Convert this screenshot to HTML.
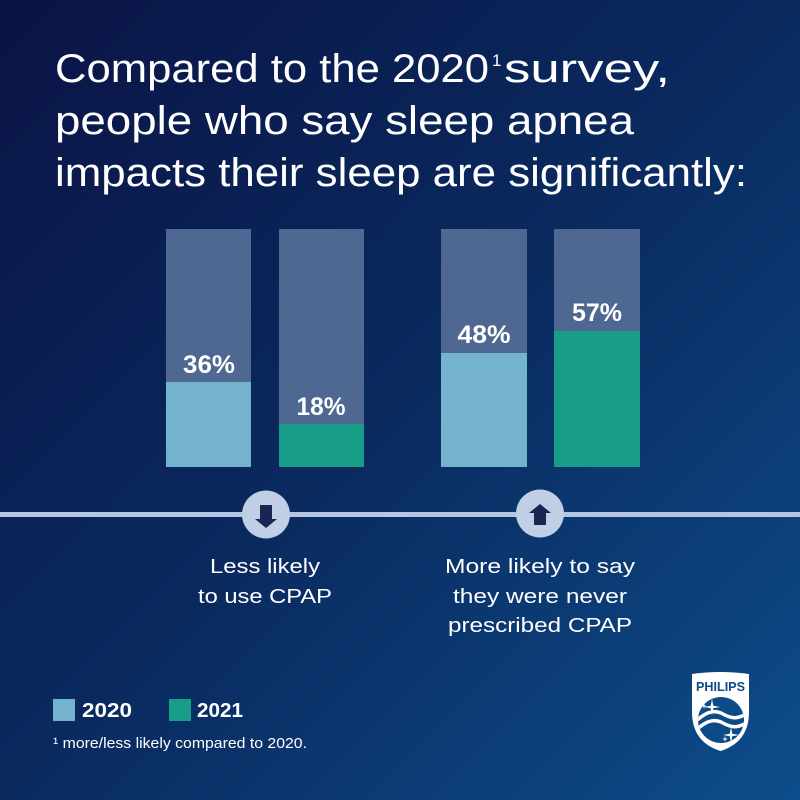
<!DOCTYPE html>
<html>
<head>
<meta charset="utf-8">
<style>
html,body{margin:0;padding:0;width:800px;height:800px;overflow:hidden;background:#0b1a50;}
svg{display:block;}
text{font-family:"Liberation Sans",sans-serif;}
</style>
</head>
<body>
<svg width="800" height="800" viewBox="0 0 800 800" xmlns="http://www.w3.org/2000/svg">
<defs>
<linearGradient id="bg" x1="0" y1="0" x2="1" y2="1">
<stop offset="0" stop-color="#0b1345"/>
<stop offset="0.5" stop-color="#0a2a5f"/>
<stop offset="1" stop-color="#0d4d8b"/>
</linearGradient>
<clipPath id="circ"><circle cx="721" cy="720" r="23"/></clipPath>
</defs>
<rect width="800" height="800" fill="url(#bg)"/>

<!-- Title -->
<g fill="#ffffff" font-size="40">
<text x="55" y="82" textLength="434" lengthAdjust="spacingAndGlyphs">Compared to the 2020</text>
<text x="492" y="66" font-size="17">1</text>
<text x="504" y="82" textLength="166" lengthAdjust="spacingAndGlyphs">survey,</text>
<text x="55" y="134" textLength="579" lengthAdjust="spacingAndGlyphs">people who say sleep apnea</text>
<text x="55" y="186" textLength="692" lengthAdjust="spacingAndGlyphs">impacts their sleep are significantly:</text>
</g>

<!-- Bars -->
<g>
<rect x="166" y="229" width="85" height="238" fill="#4e6891"/>
<rect x="166" y="382" width="85" height="85" fill="#74b3cd"/>
<rect x="279" y="229" width="85" height="238" fill="#4e6891"/>
<rect x="279" y="424" width="85" height="43" fill="#189e88"/>
<rect x="441" y="229" width="86" height="238" fill="#4e6891"/>
<rect x="441" y="353" width="86" height="114" fill="#74b3cd"/>
<rect x="554" y="229" width="86" height="238" fill="#4e6891"/>
<rect x="554" y="331" width="86" height="136" fill="#189e88"/>
</g>
<g fill="#ffffff" font-size="25" font-weight="bold" text-anchor="middle">
<text x="209" y="373" textLength="52" lengthAdjust="spacingAndGlyphs">36%</text>
<text x="321" y="415" textLength="49" lengthAdjust="spacingAndGlyphs">18%</text>
<text x="484" y="343" textLength="53" lengthAdjust="spacingAndGlyphs">48%</text>
<text x="597" y="321" textLength="50" lengthAdjust="spacingAndGlyphs">57%</text>
</g>

<!-- Line and circles -->
<rect x="0" y="512" width="800" height="5" fill="#b5c6e3"/>
<circle cx="266" cy="514.5" r="24" fill="#c0cee6"/>
<circle cx="540" cy="513.5" r="24" fill="#c0cee6"/>
<!-- down arrow -->
<path d="M260,505 L272,505 L272,519 L277,519 L266,528 L255,519 L260,519 Z" fill="#1b2452"/>
<!-- up arrow -->
<path d="M540,504 L551,513 L546,513 L546,525 L534,525 L534,513 L529,513 Z" fill="#1b2452"/>

<!-- Descriptions -->
<g fill="#ffffff" font-size="20" text-anchor="middle">
<text x="265" y="573" textLength="110" lengthAdjust="spacingAndGlyphs">Less likely</text>
<text x="265" y="603" textLength="134" lengthAdjust="spacingAndGlyphs">to use CPAP</text>
<text x="540" y="573" textLength="190" lengthAdjust="spacingAndGlyphs">More likely to say</text>
<text x="540" y="603" textLength="174" lengthAdjust="spacingAndGlyphs">they were never</text>
<text x="540" y="632" textLength="184" lengthAdjust="spacingAndGlyphs">prescribed CPAP</text>
</g>

<!-- Legend -->
<rect x="53" y="699" width="22" height="22" fill="#74b3cd"/>
<text x="82" y="717" fill="#ffffff" font-size="20" font-weight="bold" textLength="50" lengthAdjust="spacingAndGlyphs">2020</text>
<rect x="169" y="699" width="22" height="22" fill="#189e88"/>
<text x="197" y="717" fill="#ffffff" font-size="20" font-weight="bold" textLength="46" lengthAdjust="spacingAndGlyphs">2021</text>
<text x="53" y="748" fill="#ffffff" font-size="15" textLength="254" lengthAdjust="spacingAndGlyphs">¹ more/less likely compared to 2020.</text>

<!-- Philips logo -->
<g>
<path d="M692,674 Q720,670 749,674 L749,712 Q749,742 720.5,751 Q692,742 692,712 Z" fill="#ffffff"/>
<text x="696" y="691" fill="#0d4a88" font-size="13" font-weight="bold" textLength="49" lengthAdjust="spacingAndGlyphs">PHILIPS</text>
<circle cx="721" cy="720" r="23" fill="#0d4a88"/>
<g clip-path="url(#circ)" fill="none" stroke="#ffffff" stroke-width="3.5">
<path d="M696,721 C704,714 712,709 721,713 C730,718 736,720 746,714"/>
<path d="M696,730 C704,723 712,718 721,722 C730,727 736,729 746,723"/>
</g>
<path d="M712,699 L713.3,705.7 L720,707 L713.3,708.3 L712,715 L710.7,708.3 L704,707 L710.7,705.7 Z" fill="#ffffff"/>
<path d="M704,703 L704.6,705.4 L707,706 L704.6,706.6 L704,709 L703.4,706.6 L701,706 L703.4,705.4 Z" fill="#ffffff"/>
<path d="M731,727 L732.3,733.7 L739,735 L732.3,736.3 L731,743 L729.7,736.3 L723,735 L729.7,733.7 Z" fill="#ffffff"/>
<path d="M725,736 L725.6,738.4 L728,739 L725.6,739.6 L725,742 L724.4,739.6 L722,739 L724.4,738.4 Z" fill="#ffffff"/>
</g>
</svg>
</body>
</html>
